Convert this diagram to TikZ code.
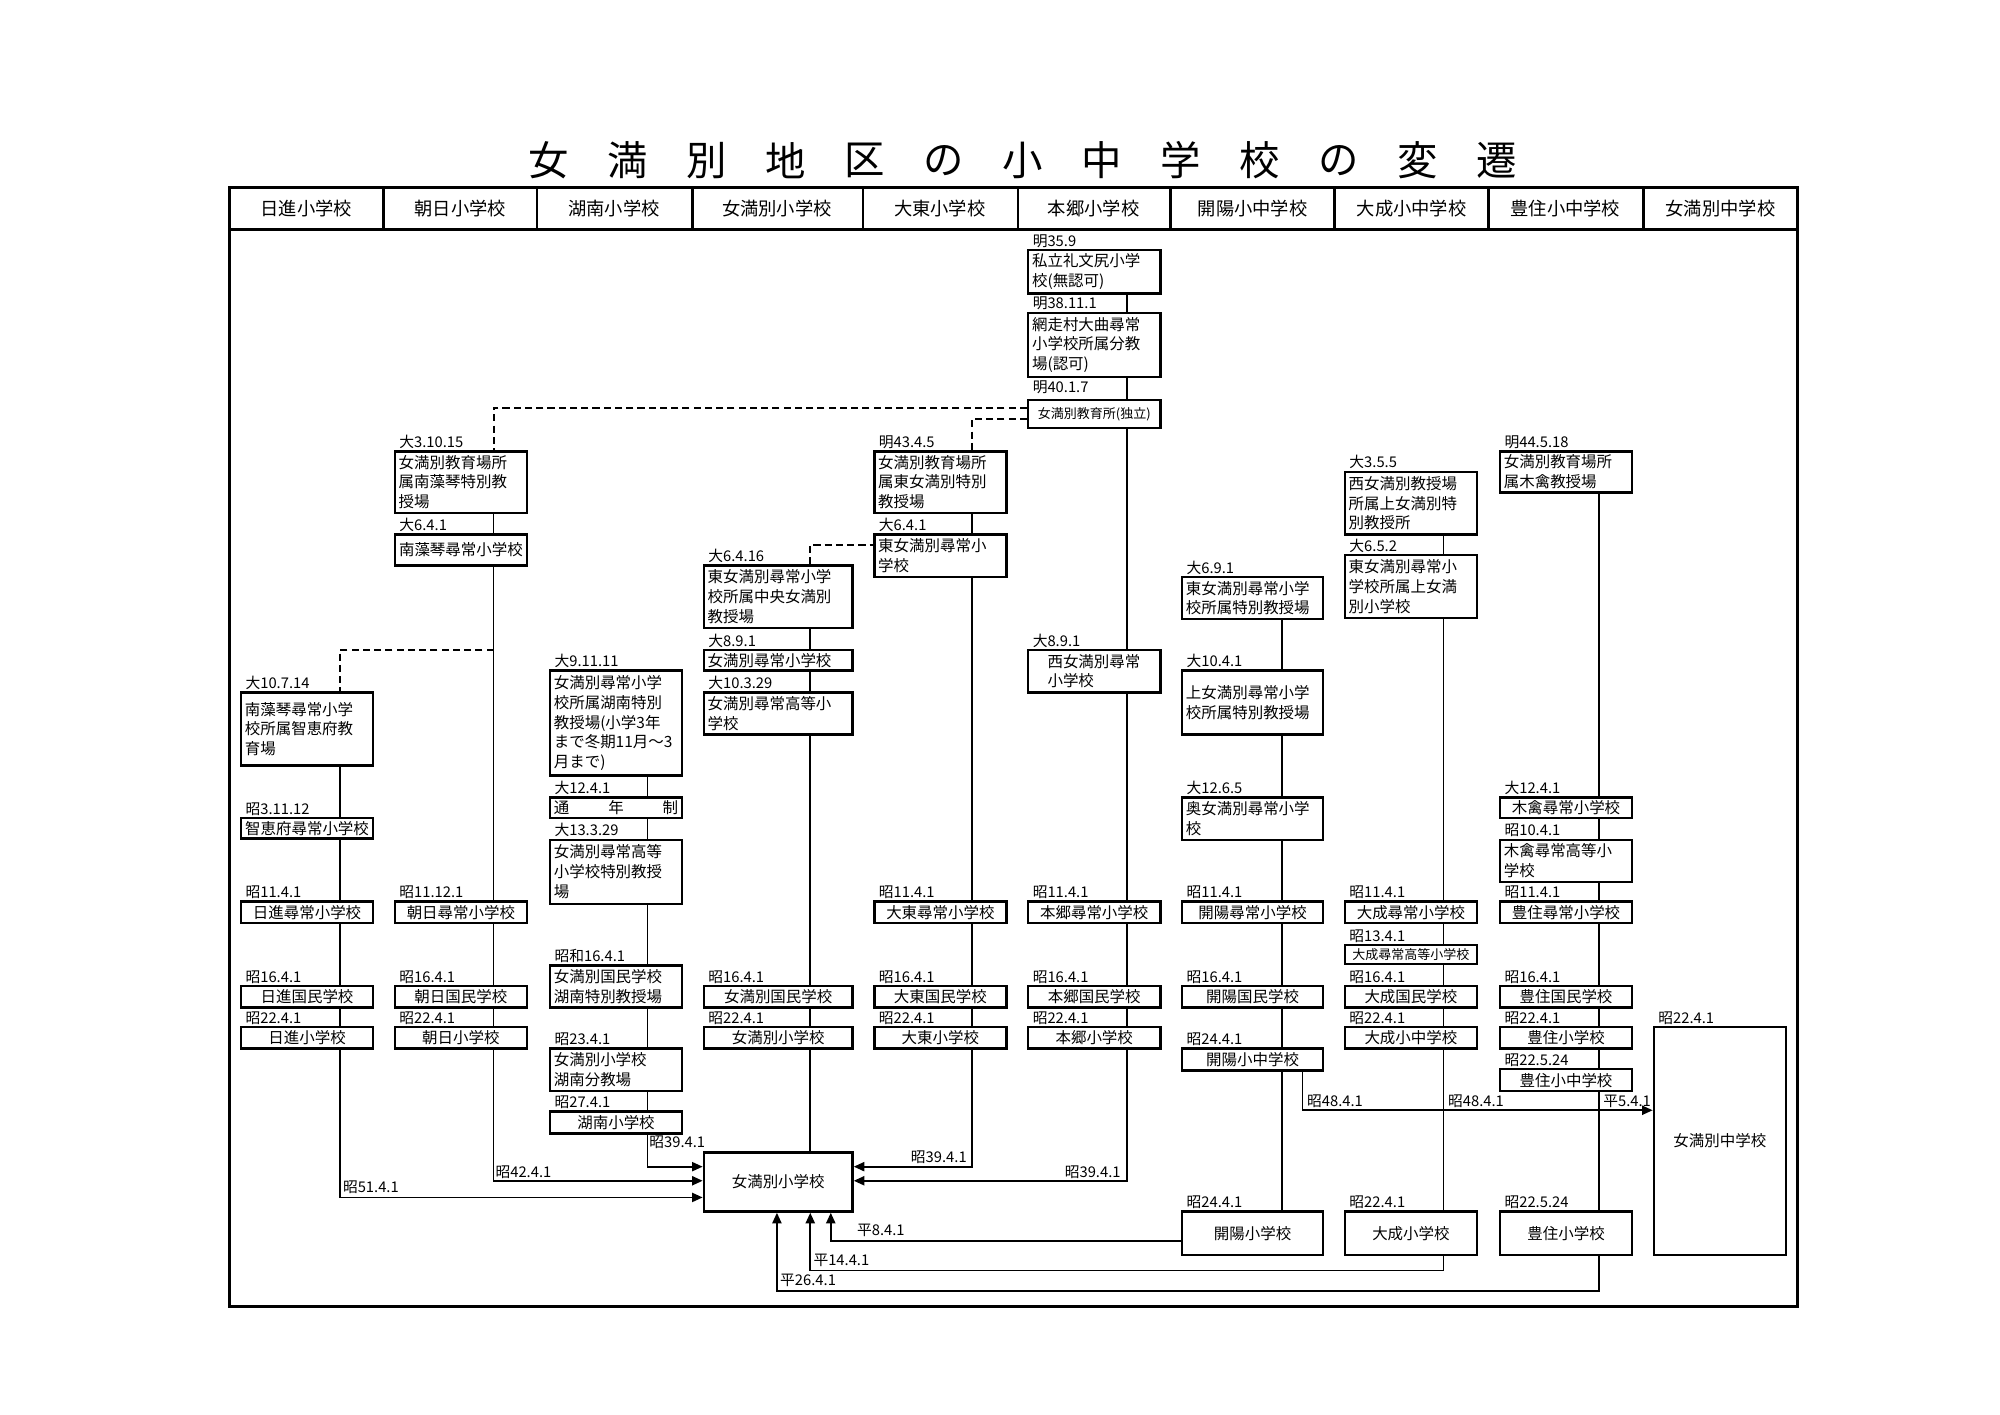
\documentclass[tikz,border=0pt]{standalone}
\usepackage{fontspec}
\setmainfont{Noto Sans CJK JP}
\usetikzlibrary{arrows.meta}
\usetikzlibrary{fit}
\usetikzlibrary{calc}
\usetikzlibrary{backgrounds}

\tikzset{
  box/.style={draw, line width=0.7pt, fill=white, inner sep=0pt},
  txt/.style={inner sep=0pt, font=\fontsize{4.4}{5.6}\selectfont},
  dat/.style={anchor=base west, inner sep=0pt, font=\fontsize{4.2}{5}\selectfont},
  lbl/.style={anchor=west, inner sep=0pt, font=\fontsize{4.2}{5}\selectfont},
  link/.style={line width=0.5pt},
  dashlink/.style={line width=0.6pt, dash pattern=on 2pt off 1.2pt},
  arr/.style={line width=0.5pt, -{Triangle[length=3pt, width=2.6pt]}},
}

% school box: [align]{name}{x1}{y1}{x2}{y2}{date}{text}
\newcommand\sch[8][center]{%
  \node[box, fit={(#3,#4)(#5,#6)}] (#2) {};
  \pgfmathsetlengthmacro\tw{(#5-#3-6)*0.01282cm}
  \node[txt, text width=\tw, align=#1] at (#2.center) {#8};
  \node[dat] at ($(#3,#4)+(3,-3)$) {#7};
}

\begin{document}
\begin{tikzpicture}[x=0.01282cm, y=-0.01282cm]
\useasboundingbox (0,0) rectangle (1560,1103);

% title
\foreach \c [count=\i from 0] in {女,満,別,地,区,の,小,中,学,校,の,変,遷}
  \node[font=\fontsize{11.5}{12}\selectfont] at (428+61.6*\i,125) {\c};

% frame and header
\draw[line width=0.9pt] (179,146) rectangle (1402,1019);
\draw[line width=0.9pt] (179,179) -- (1402,179);
\foreach \x in {299,419,540,673,794,913,1041,1161,1282}
  \draw[line width=0.7pt] (\x,146) -- (\x,179);
\foreach \x/\t [count=\i] in {239/日進小学校,359/朝日小学校,479/湖南小学校,606/女満別小学校,733/大東小学校,
    853/本郷小学校,977/開陽小中学校,1101/大成小中学校,1221/豊住小中学校,1342/女満別中学校}
  \node[font=\fontsize{5.2}{6}\selectfont] (head\i) at (\x,163) {\t};

% column lines and levels
\coordinate (cNi) at (265,0);
\coordinate (cAs) at (385,0);
\coordinate (cKo) at (505,0);
\coordinate (cMe) at (632,0);
\coordinate (cTa) at (758,0);
\coordinate (cHo) at (879,0);
\coordinate (cKa) at (1000,0);
\coordinate (cKb) at (1016,0);
\coordinate (cTs) at (1126,0);
\coordinate (cTo) at (1247,0);
\coordinate (cMa) at (648,0);
\coordinate (cMc) at (606,0);
\foreach \y in {318,327,425,507,866,910,921,934,968,991,1007}
  \coordinate (y\y) at (0,\y);

% 本郷
\sch[left]{ho1}{802}{195}{905}{229}{明35.9}{私立礼文尻小学\\校(無認可)}
\sch[left]{ho2}{802}{244}{905}{294}{明38.11.1}{網走村大曲尋常\\小学校所属分教\\場(認可)}
\node[box, fit={(802,312)(905,334)}] (ho3) {};
\node[txt, font=\fontsize{3.7}{4}\selectfont] at (ho3.center) {女満別教育所(独立)};
\node[dat] at (805,306) {明40.1.7};
\sch[left]{ho4}{802}{507}{905}{540}{大8.9.1}{\hspace{1em}西女満別尋常\\\hspace{1em}小学校}
\sch{ho5}{802}{703}{905}{720}{昭11.4.1}{本郷尋常小学校}
\sch{ho6}{802}{769}{905}{786}{昭16.4.1}{本郷国民学校}
\sch{ho7}{802}{801}{905}{818}{昭22.4.1}{本郷小学校}

% 朝日
\sch[left]{as1}{308}{352}{411}{400}{大3.10.15}{女満別教育場所\\属南藻琴特別教\\授場}
\sch{as2}{308}{417}{411}{441}{大6.4.1}{南藻琴尋常小学校}
\sch{as3}{308}{703}{411}{720}{昭11.12.1}{朝日尋常小学校}
\sch{as4}{308}{769}{411}{786}{昭16.4.1}{朝日国民学校}
\sch{as5}{308}{801}{411}{818}{昭22.4.1}{朝日小学校}

% 日進
\sch[left]{ni1}{188}{540}{291}{597}{大10.7.14}{南藻琴尋常小学\\校所属智恵府教\\育場}
\sch{ni2}{188}{638}{291}{654}{昭3.11.12}{智恵府尋常小学校}
\sch{ni3}{188}{703}{291}{720}{昭11.4.1}{日進尋常小学校}
\sch{ni4}{188}{769}{291}{786}{昭16.4.1}{日進国民学校}
\sch{ni5}{188}{801}{291}{818}{昭22.4.1}{日進小学校}

% 湖南
\sch[left]{ko1}{429}{523}{532}{605}{大9.11.11}{女満別尋常小学\\校所属湖南特別\\教授場(小学3年\\まで冬期11月～3\\月まで)}
\sch{ko2}{429}{622}{532}{638}{大12.4.1}{通\hfill 年\hfill 制}
\sch[left]{ko3}{429}{655}{532}{705}{大13.3.29}{女満別尋常高等\\小学校特別教授\\場}
\sch[left]{ko4}{429}{753}{532}{786}{昭和16.4.1}{女満別国民学校\\湖南特別教授場}
\sch[left]{ko5}{429}{818}{532}{851}{昭23.4.1}{女満別小学校\\湖南分教場}
\sch{ko6}{429}{867}{532}{884}{昭27.4.1}{湖南小学校}

% 女満別
\sch[left]{me1}{549}{441}{665}{490}{大6.4.16}{東女満別尋常小学\\校所属中央女満別\\教授場}
\sch[left]{me2}{549}{507}{665}{523}{大8.9.1}{女満別尋常小学校}
\sch[left]{me3}{549}{540}{665}{573}{大10.3.29}{女満別尋常高等小\\学校}
\sch{me4}{549}{769}{665}{786}{昭16.4.1}{女満別国民学校}
\sch{me5}{549}{801}{665}{818}{昭22.4.1}{女満別小学校}
\sch{main}{549}{899}{665}{945}{}{女満別小学校}

% 大東
\sch[left]{ta1}{682}{352}{785}{400}{明43.4.5}{女満別教育場所\\属東女満別特別\\教授場}
\sch[left]{ta2}{682}{417}{785}{450}{大6.4.1}{東女満別尋常小\\学校}
\sch{ta3}{682}{703}{785}{720}{昭11.4.1}{大東尋常小学校}
\sch{ta4}{682}{769}{785}{786}{昭16.4.1}{大東国民学校}
\sch{ta5}{682}{801}{785}{818}{昭22.4.1}{大東小学校}

% 開陽
\sch[left]{ka1}{922}{450}{1032}{483}{大6.9.1}{東女満別尋常小学\\校所属特別教授場}
\sch[left]{ka2}{922}{523}{1032}{573}{大10.4.1}{上女満別尋常小学\\校所属特別教授場}
\sch[left]{ka3}{922}{622}{1032}{655}{大12.6.5}{奥女満別尋常小学\\校}
\sch{ka4}{922}{703}{1032}{720}{昭11.4.1}{開陽尋常小学校}
\sch{ka5}{922}{769}{1032}{786}{昭16.4.1}{開陽国民学校}
\sch{ka6}{922}{818}{1032}{835}{昭24.4.1}{開陽小中学校}
\sch{ka7}{922}{945}{1032}{979}{昭24.4.1}{開陽小学校}

% 大成
\sch[left]{ts1}{1049}{368}{1152}{417}{大3.5.5}{西女満別教授場\\所属上女満別特\\別教授所}
\sch[left]{ts2}{1049}{433}{1152}{482}{大6.5.2}{東女満別尋常小\\学校所属上女満\\別小学校}
\sch{ts3}{1049}{703}{1152}{720}{昭11.4.1}{大成尋常小学校}
\node[box, fit={(1049,737)(1152,752)}] (ts4) {};
\node[txt, font=\fontsize{3.7}{4}\selectfont] at (ts4.center) {大成尋常高等小学校};
\node[dat] at (1052,734) {昭13.4.1};
\sch{ts5}{1049}{769}{1152}{786}{昭16.4.1}{大成国民学校}
\sch{ts6}{1049}{801}{1152}{818}{昭22.4.1}{大成小中学校}
\sch{ts7}{1049}{945}{1152}{979}{昭22.4.1}{大成小学校}

% 豊住
\sch[left]{to1}{1170}{352}{1273}{384}{明44.5.18}{女満別教育場所\\属木禽教授場}
\sch{to2}{1170}{622}{1273}{638}{大12.4.1}{木禽尋常小学校}
\sch[left]{to3}{1170}{655}{1273}{688}{昭10.4.1}{木禽尋常高等小\\学校}
\sch{to4}{1170}{703}{1273}{720}{昭11.4.1}{豊住尋常小学校}
\sch{to5}{1170}{769}{1273}{786}{昭16.4.1}{豊住国民学校}
\sch{to6}{1170}{801}{1273}{818}{昭22.4.1}{豊住小学校}
\sch{to7}{1170}{834}{1273}{851}{昭22.5.24}{豊住小中学校}
\sch{to8}{1170}{945}{1273}{979}{昭22.5.24}{豊住小学校}

% 女満別中学校
\sch{jh}{1290}{801}{1393}{979}{昭22.4.1}{女満別中学校}

% connectors
\begin{pgfonlayer}{background}
  \draw[link] (ho1.south -| cHo) -- (ho7.south -| cHo);
  \draw[arr] (ho7.south -| cHo) |- (main.east |- y921);
  \draw[dashlink] (ho3.west |- y318) -| (as1.north -| cAs);
  \draw[dashlink] (ho3.west |- y327) -| (ta1.north -| cTa);
  \draw[link] (as1.south -| cAs) -- (as5.south -| cAs);
  \draw[arr] (as5.south -| cAs) |- (main.west |- y921);
  \draw[dashlink] (cAs |- y507) -| (ni1.north -| cNi);
  \draw[link] (ni1.south -| cNi) -- (ni5.south -| cNi);
  \draw[arr] (ni5.south -| cNi) |- (main.west |- y934);
  \draw[link] (ko1.south -| cKo) -- (ko6.south -| cKo);
  \draw[arr] (ko6.south -| cKo) |- (main.west |- y910);
  \draw[link] (me1.south -| cMe) -- (main.north -| cMe);
  \draw[dashlink] (me1.north -| cMe) |- (ta2.west |- y425);
  \draw[link] (ta1.south -| cTa) -- (ta5.south -| cTa);
  \draw[arr] (ta5.south -| cTa) |- (main.east |- y910);
  \draw[link] (ka1.south -| cKa) -- (ka7.north -| cKa);
  \draw[arr] (ka6.south -| cKb) |- (jh.west |- y866);
  \draw[arr] (ka7.west |- y968) -| (main.south -| cMa);
  \draw[link] (ts1.south -| cTs) -- (ts7.north -| cTs);
  \draw[arr] (ts7.south -| cTs) -- (cTs |- y991) -| (main.south -| cMe);
  \draw[link] (to1.south -| cTo) -- (to8.north -| cTo);
  \draw[arr] (to8.south -| cTo) -- (cTo |- y1007) -| (main.south -| cMc);
\end{pgfonlayer}

% connector labels
\node[lbl] at (267,926) {昭51.4.1};
\node[lbl] at (386,914) {昭42.4.1};
\node[lbl] at (506,891) {昭39.4.1};
\node[lbl] at (710,903) {昭39.4.1};
\node[lbl] at (830,914) {昭39.4.1};
\node[lbl] at (668,960) {平8.4.1};
\node[lbl] at (634,983) {平14.4.1};
\node[lbl] at (608,999) {平26.4.1};
\node[lbl] at (1019,859) {昭48.4.1};
\node[lbl] at (1129,859) {昭48.4.1};
\node[lbl] at (1250,859) {平5.4.1};
\end{tikzpicture}
\end{document}
